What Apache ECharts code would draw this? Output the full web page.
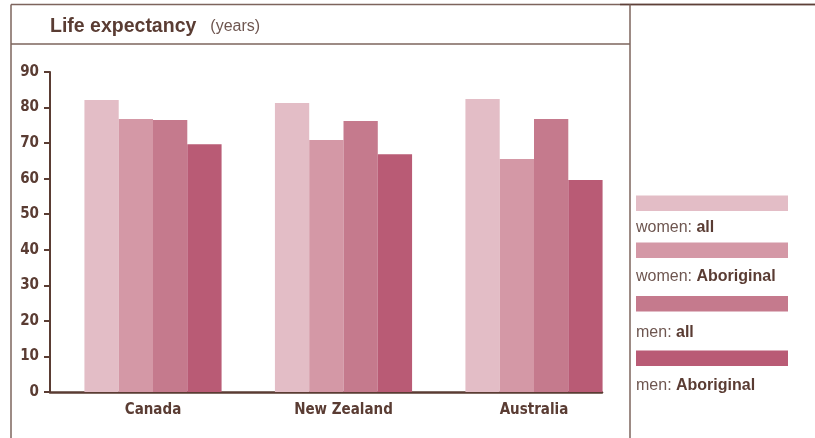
<!DOCTYPE html>
<html>
<head>
<meta charset="utf-8">
<script src="https://cdn.jsdelivr.net/npm/echarts@6/dist/echarts.min.js"></script>
<style>
html,body{margin:0;padding:0;background:#fff;}
#chart{width:815px;height:438px;}
</style>
</head>
<body>
<div id="chart"></div>
<script>
const categories = ['Canada', 'New Zealand', 'Australia'];
const seriesNames = ['women: all', 'women: Aboriginal', 'men: all', 'men: Aboriginal'];
const womenAll = [82.1, 81.3, 82.4];
const womenAboriginal = [76.8, 70.9, 65.5];
const menAll = [76.5, 76.2, 76.8];
const menAboriginal = [69.7, 66.9, 59.6];
const yTicks = [0, 10, 20, 30, 40, 50, 60, 70, 80, 90];

const colors = ['#e3bdc6', '#d498a6', '#c57a8d', '#b95b75'];
const dark = '#5a3c33';
const frame = '#7d645d';
const condensed = "'DejaVu Sans Condensed', 'DejaVu Sans', sans-serif";
const values = [womenAll, womenAboriginal, menAll, menAboriginal];

const chart = echarts.init(document.getElementById('chart'));

const swatchTops = [195.5, 242.5, 296, 350.5];
const textTops = [219.5, 269, 325, 378];

const legends = [];
seriesNames.forEach((n, i) => {
  legends.push({
    data: [n], left: 636, top: swatchTops[i], orient: 'vertical', padding: 0,
    icon: 'rect', itemWidth: 152, itemHeight: 15.5,
    formatter: () => '', selectedMode: false,
    textStyle: { fontSize: 1 }
  });
  legends.push({
    data: [n], left: 631, top: textTops[i], orient: 'vertical', padding: 0,
    icon: 'rect', itemWidth: 0, itemHeight: 14, selectedMode: false,
    formatter: (name) => {
      const p = name.split(': ');
      return '{a|' + p[0] + ': }{b|' + p[1] + '}';
    },
    textStyle: {
      rich: {
        a: { fontFamily: 'Liberation Sans', fontSize: 16, color: '#6e5650' },
        b: { fontFamily: 'Liberation Sans', fontSize: 16, fontWeight: 'bold', color: dark }
      }
    }
  });
});

const option = {
  animation: false,
  color: colors,
  title: {
    text: '{a|Life expectancy}{b|(years)}',
    left: 45, top: 12, padding: [5, 5, 5, 5],
    textStyle: {
      rich: {
        a: { fontFamily: 'Liberation Sans', fontSize: 19.5, fontWeight: 'bold', color: dark },
        b: { fontFamily: 'Liberation Sans', fontSize: 16, fontWeight: 'normal', color: '#6e5650', padding: [0, 0, 0, 14] }
      }
    }
  },
  legend: legends,
  grid: [
    { left: 57.75, right: 815 - 629.25, top: 72, bottom: 46 },
    { left: 50, right: 815 - 602, top: 72, bottom: 46 }
  ],
  xAxis: [
    {
      type: 'category', data: categories, gridIndex: 0,
      axisLine: { show: false }, axisTick: { show: false },
      axisLabel: {
        margin: 11, fontFamily: condensed, fontWeight: 'bold',
        fontSize: 15, color: dark
      }
    },
    {
      type: 'value', gridIndex: 1, min: 0, max: 1,
      axisLine: { show: true, lineStyle: { color: dark, width: 2.5 } },
      axisTick: { show: false }, axisLabel: { show: false }, splitLine: { show: false }
    }
  ],
  yAxis: [
    { type: 'value', gridIndex: 0, min: 0, max: 90, interval: 10, show: false, splitLine: { show: false } },
    {
      type: 'value', gridIndex: 1, min: yTicks[0], max: yTicks[yTicks.length - 1], interval: 10,
      axisLine: { show: true, lineStyle: { color: dark, width: 2 } },
      axisTick: { show: true, length: 6, lineStyle: { color: dark, width: 2 } },
      axisLabel: {
        margin: 11, fontFamily: condensed, fontWeight: 'bold',
        fontSize: 15, color: dark
      },
      splitLine: { show: false }
    }
  ],
  series: seriesNames.map((n, i) => ({
    name: n, type: 'bar', xAxisIndex: 0, yAxisIndex: 0,
    data: values[i], barGap: '0%', barCategoryGap: '28%',
    itemStyle: { color: colors[i] }
  })),
  graphic: [
    { type: 'line', shape: { x1: 11, y1: 4.5, x2: 815, y2: 4.5 }, style: { stroke: frame, lineWidth: 1.5 } },
    { type: 'line', shape: { x1: 620, y1: 4.5, x2: 815, y2: 4.5 }, style: { stroke: '#5e4038', lineWidth: 1.5 } },
    { type: 'line', shape: { x1: 11, y1: 4.5, x2: 11, y2: 438 }, style: { stroke: frame, lineWidth: 1.5 } },
    { type: 'line', shape: { x1: 630, y1: 4.5, x2: 630, y2: 438 }, style: { stroke: frame, lineWidth: 1.5 } },
    { type: 'line', shape: { x1: 11, y1: 44, x2: 630, y2: 44 }, style: { stroke: frame, lineWidth: 1.5 } }
  ]
};
chart.setOption(option);
</script>
</body>
</html>
